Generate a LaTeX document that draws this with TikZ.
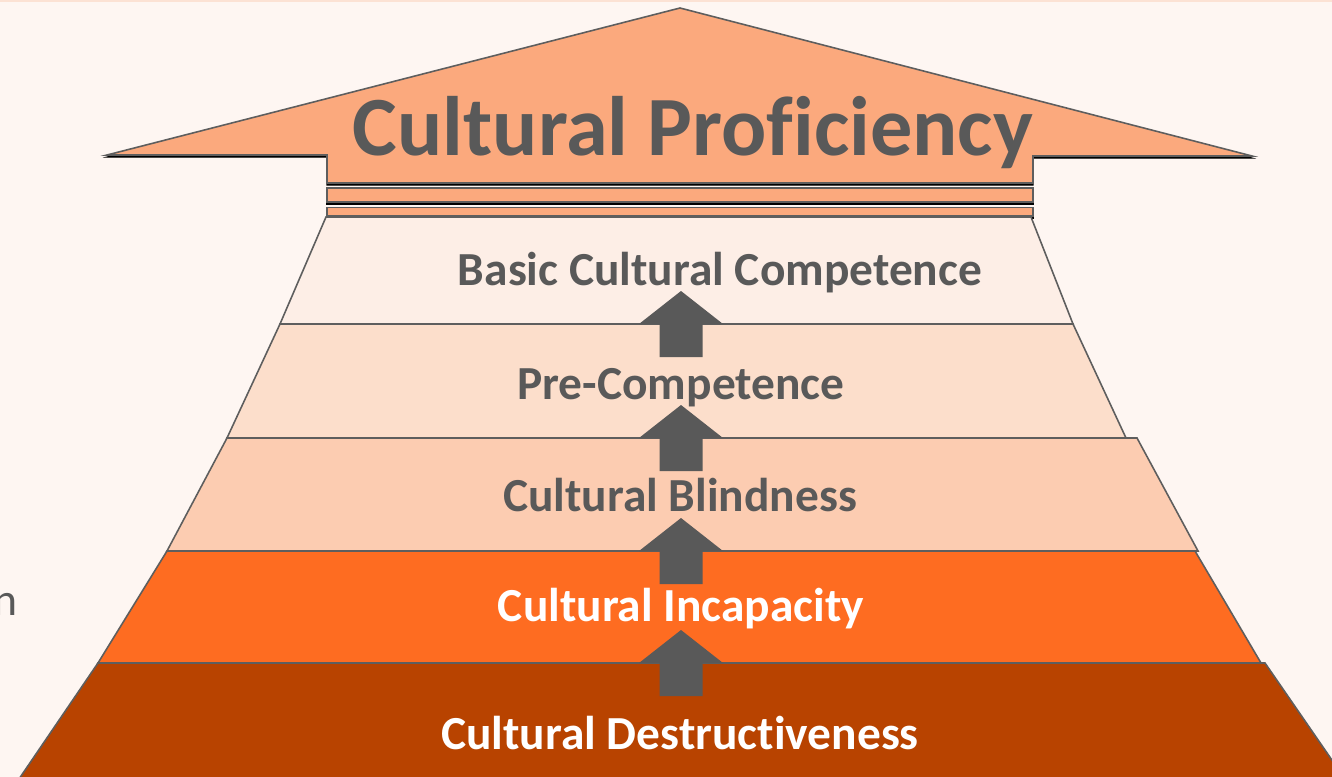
\documentclass[tikz,border=0pt]{standalone}
\usepackage{fontspec}
\setmainfont{Carlito}[Ligatures=NoCommon]
\usetikzlibrary{calc}

\definecolor{pagebg}{HTML}{FEF6F2}
\definecolor{topband}{HTML}{FCE2D4}
\definecolor{peach}{HTML}{FBA97D}
\definecolor{levelA}{HTML}{FDEEE6}
\definecolor{levelB}{HTML}{FCDECB}
\definecolor{levelC}{HTML}{FCCCB1}
\definecolor{levelD}{HTML}{FE6C21}
\definecolor{levelE}{HTML}{B84300}
\definecolor{inkgray}{HTML}{595959}
\definecolor{edgegray}{HTML}{5E5E5E}

\tikzset{
  level/.style={draw=edgegray, line width=0.9pt, line join=miter},
  levellabel/.style={anchor=base, inner sep=0pt, font=\fontsize{27}{32}\selectfont\bfseries},
  headshadow/.style={fill=black, draw=black, line width=0.6pt},
  headpart/.style={fill=peach, draw=edgegray, line width=0.9pt}
}

% small up arrow standing on a level boundary: (centre x, boundary y)
\def\steparrow(#1,#2){\fill[inkgray] ({#1-42},{#2}) -- ({#1},{#2-33}) -- ({#1+42},{#2}) -- ({#1+21.5},{#2}) -- ({#1+21.5},{#2+33}) -- ({#1-21.5},{#2+33}) -- ({#1-21.5},{#2}) -- cycle;}

\begin{document}
\begin{tikzpicture}[x=0.02cm, y=-0.02cm]
	%%%%% START %%%%%
	
	\clip (0, 0) rectangle (1332, 777);
	\fill[pagebg] (0, 0) rectangle (1332, 777);
	\fill[topband] (0, 0) rectangle (1332, 2.5);
	
	% big arrow on top, black copy a bit lower as shadow
	\draw[headshadow] (107, 157) -- (680, 10) -- (1252, 158) -- (1033, 158) -- (1033, 185) -- (327, 185) -- (327, 157) -- cycle;
	\draw[headpart] (107, 155) -- (680, 8) -- (1252, 156) -- (1033, 156) -- (1033, 183) -- (327, 183) -- (327, 155) -- cycle;
	
	\draw[headshadow] (327, 190) rectangle (1033, 204);
	\draw[headpart] (327, 188) rectangle (1033, 202);
	\draw[headshadow] (327, 209.5) rectangle (1033, 218);
	\draw[headpart] (327, 207.5) rectangle (1033, 216);
	
	% levels, top to bottom
	\draw[level, fill=levelA] (326, 217) -- (1031, 217) -- (1073, 324) -- (280, 324) -- cycle;
	\draw[level, fill=levelB] (280, 324) -- (1073, 324) -- (1126, 438) -- (227, 438) -- cycle;
	\draw[level, fill=levelC] (227, 438) -- (1137, 438) -- (1198, 551) -- (167, 551) -- cycle;
	\draw[level, fill=levelD] (167, 551) -- (1195, 551) -- (1261, 663) -- (98, 663) -- cycle;
	\draw[level, fill=levelE] (98, 663) -- (1265, 663) -- (1345, 779) -- (19, 779) -- cycle;
	
	\foreach \yb in {324, 438, 551, 663}
		\steparrow(681,\yb);
	
	\node[anchor=base, inner sep=0pt, text=inkgray, font=\fontsize{48}{58}\selectfont\bfseries] (proficiency) at (693, 155) {Cultural Proficiency};
	
	\node[levellabel, text=inkgray] (basic) at (720, 285) {Basic Cultural Competence};
	\node[levellabel, text=inkgray] (precomp) at (681, 399) {Pre-Competence};
	\node[levellabel, text=inkgray] (blindness) at (680, 511) {Cultural Blindness};
	\node[levellabel, text=white] (incapacity) at (681, 621) {Cultural Incapacity};
	\node[levellabel, text=white] (destruct) at (680, 749) {Cultural Destructiveness};
	
	\node[anchor=base east, inner sep=0pt, text=inkgray, font=\fontsize{26}{31}\selectfont] (cutoff) at (18, 615) {n};
	
	%%%%% END %%%%%
\end{tikzpicture}
\end{document}
